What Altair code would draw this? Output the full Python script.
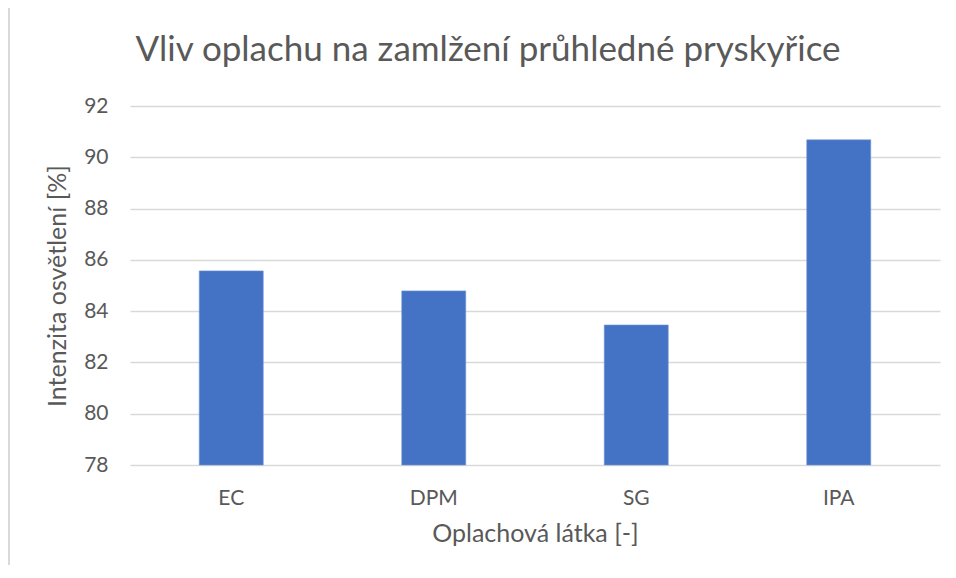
import altair as alt
import pandas as pd

categories = ["EC", "DPM", "SG", "IPA"]
values = [85.57, 84.79, 83.46, 90.68]
y_ticks = [78, 80, 82, 84, 86, 88, 90, 92]

df = pd.DataFrame({"latka": categories, "intenzita": values})

FONT = "Lato"
TXT = "#595959"
GRID = "#d9d9d9"

bars = alt.Chart(df).mark_bar(color="#4472C4", stroke="#6f95d8", strokeWidth=0.6).encode(
    x=alt.X("latka:N", sort=categories,
            scale=alt.Scale(paddingInner=0.684, paddingOuter=0.342),
            axis=alt.Axis(title="Oplachová látka [-]", labelAngle=0, domain=False, ticks=False,
                          labelPadding=22, labelFontSize=21, labelColor=TXT, labelFont=FONT,
                          titleFontSize=25, titleColor=TXT, titleFont=FONT, titleFontWeight="normal",
                          titlePadding=13)),
    y=alt.Y("intenzita:Q",
            scale=alt.Scale(domain=[78, 92], zero=False, nice=False),
            axis=alt.Axis(title="Intenzita osvětlení [%]", values=y_ticks, domain=False, ticks=False,
                          grid=True, gridColor=GRID, gridWidth=1.5,
                          labelPadding=22, labelFontSize=21, labelColor=TXT, labelFont=FONT,
                          titleFontSize=25, titleColor=TXT, titleFont=FONT, titleFontWeight="normal",
                          titlePadding=13)),
    y2=alt.datum(78),
)

frame_left = alt.Chart(df).mark_rule(color=GRID, strokeWidth=1.5, clip=False).encode(
    x=alt.value(-121), y=alt.value(-100), y2=alt.value(500))
frame_top = alt.Chart(df).mark_rule(color=GRID, strokeWidth=1.5, clip=False).encode(
    x=alt.value(-121), x2=alt.value(900), y=alt.value(-100))

chart = alt.layer(frame_left, frame_top, bars).properties(
    width=810, height=359,
    padding={"left": 122, "top": 98, "right": 8, "bottom": 100},
    autosize=alt.AutoSizeParams(type="none"),
    title=alt.TitleParams("Vliv oplachu na zamlžení průhledné pryskyřice",
                          font=FONT, fontSize=35, color=TXT, fontWeight="normal",
                          anchor="middle", dx=-47, offset=-63),
).configure_view(stroke=None)

chart.save("out.html", embed_options={"renderer": "svg", "actions": False})
